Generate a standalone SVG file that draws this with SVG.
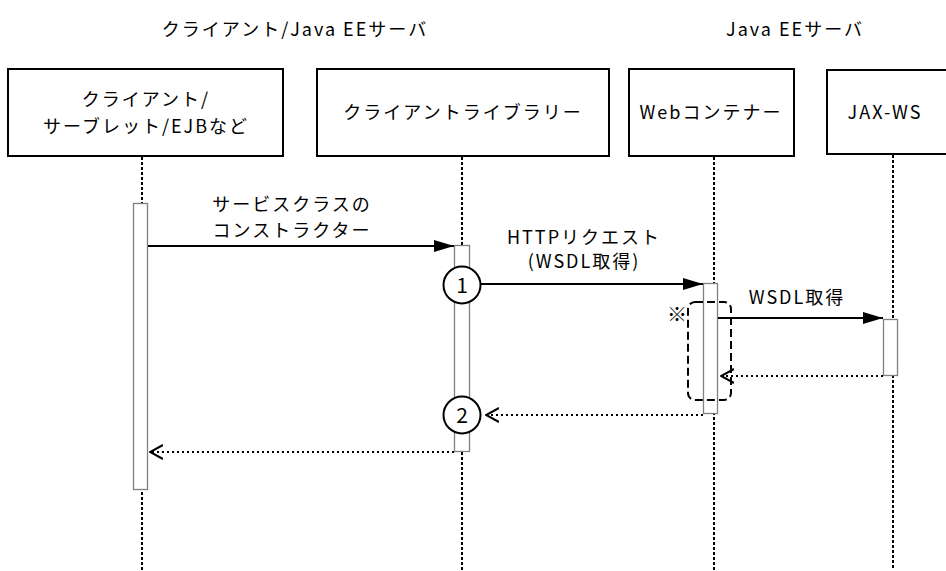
<svg xmlns="http://www.w3.org/2000/svg" width="946" height="571" viewBox="0 0 946 571">
<defs>
<style>
text{font-family:"Noto Sans CJK JP","Noto Sans",sans-serif;font-size:18px;fill:#000;text-anchor:middle;letter-spacing:2px}
.box{fill:#fff;stroke:#000;stroke-width:2}
.life{stroke:#000;stroke-width:2;stroke-dasharray:3 2;fill:none}
.act{fill:#fff;stroke:#808080;stroke-width:1.3}
.msg{stroke:#000;stroke-width:2;fill:none}
.ret{stroke:#000;stroke-width:2;stroke-dasharray:2 3;fill:none}
.circ{fill:#fff;stroke:#000;stroke-width:2}
.num{font-size:21px;letter-spacing:0}
</style>
<marker id="filled" viewBox="0 0 20 12" refX="20" refY="6" markerWidth="20" markerHeight="12" markerUnits="userSpaceOnUse" orient="auto">
<path d="M0,0 L20,6 L0,12 Z" fill="#000"/>
</marker>
<marker id="open" viewBox="0 0 14 16" refX="13" refY="8" markerWidth="14" markerHeight="16" markerUnits="userSpaceOnUse" orient="auto">
<path d="M0,1 L13,8 L0,15" fill="none" stroke="#000" stroke-width="2"/>
</marker>
</defs>
<rect width="946" height="571" fill="#fff"/>

<text x="295" y="36">クライアント/Java EEサーバ</text>
<text x="795" y="36">Java EEサーバ</text>

<g id="lifelines">
<line class="life" x1="142" y1="157" x2="142" y2="570"/>
<line class="life" x1="462" y1="157" x2="462" y2="570"/>
<line class="life" x1="714" y1="157" x2="714" y2="570"/>
<line class="life" x1="893" y1="155" x2="893" y2="570"/>
</g>

<g id="node-client">
<rect class="box" x="8" y="69" width="275" height="87"/>
<text x="146" y="106">クライアント/</text>
<text x="146" y="133">サーブレット/EJBなど</text>
</g>
<g id="node-library">
<rect class="box" x="317" y="69" width="292" height="87"/>
<text x="463" y="119">クライアントライブラリー</text>
</g>
<g id="node-web">
<rect class="box" x="629" y="69" width="165" height="87"/>
<text x="711" y="119">Webコンテナー</text>
</g>
<g id="node-jaxws">
<rect class="box" x="827" y="70" width="125" height="84"/>
<text x="885" y="119">JAX-WS</text>
</g>

<g id="activations">
<rect class="act" x="133.5" y="203.5" width="14" height="286"/>
<rect class="act" x="454.5" y="245.5" width="15" height="206"/>
<rect class="act" x="703.5" y="283.5" width="14" height="130"/>
<rect class="act" x="883.5" y="319.5" width="14" height="56"/>
</g>

<g id="connectors">
<line class="msg" x1="148" y1="246" x2="454" y2="246" marker-end="url(#filled)"/>
<line class="msg" x1="481" y1="284" x2="703" y2="284" marker-end="url(#filled)"/>
<line class="msg" x1="718" y1="318" x2="883" y2="318" marker-end="url(#filled)"/>
<line class="ret" x1="883" y1="376" x2="721" y2="376" marker-end="url(#open)"/>
<line class="ret" x1="703" y1="415" x2="486" y2="415" marker-end="url(#open)"/>
<line class="ret" x1="454" y1="452" x2="150" y2="452" marker-end="url(#open)"/>
</g>

<g id="labels">
<text x="292" y="211">サービスクラスの</text>
<text x="292" y="237">コンストラクター</text>
<text x="584" y="244">HTTPリクエスト</text>
<text x="584" y="268">(WSDL取得)</text>
<text x="797" y="304">WSDL取得</text>
</g>

<g id="marker-1">
<circle class="circ" cx="462" cy="285" r="18.5"/>
<text class="num" x="462" y="293">1</text>
</g>
<g id="marker-2">
<circle class="circ" cx="462" cy="415" r="18.5"/>
<text class="num" x="462" y="423">2</text>
</g>

<g id="note">
<rect x="688" y="302" width="43" height="98" rx="7" ry="7" fill="none" stroke="#000" stroke-width="2" stroke-dasharray="8 4"/>
<text x="677" y="322" style="letter-spacing:0;font-size:20px">※</text>
</g>
</svg>
